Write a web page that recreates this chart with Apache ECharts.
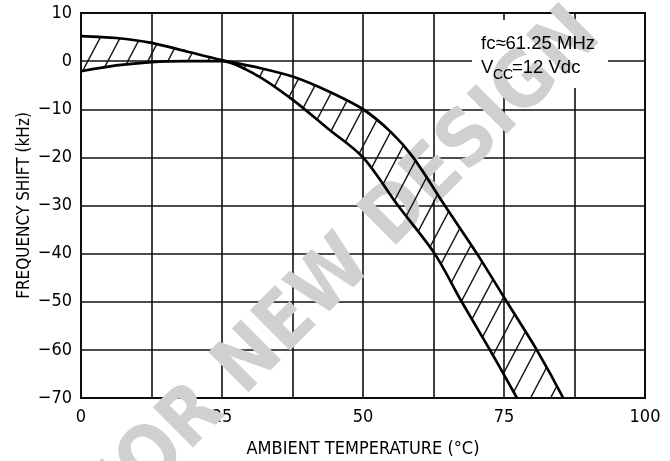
<!DOCTYPE html>
<html>
<head>
<meta charset="UTF-8">
<script src="https://cdn.jsdelivr.net/npm/echarts@6/dist/echarts.min.js"></script>
<style>
    html, body { margin: 0; padding: 0; background: #fff; }
    #chart { width: 670px; height: 461px; }
</style>
</head>
<body>
<div id="chart"></div>
<script>
    // values
    var xTicks = [0, 25, 50, 75, 100];
    var yTicks = [-70, -60, -50, -40, -30, -20, -10, 0, 10];

    var upperTemp  = [0, 6.25, 12.5, 18.75, 25, 31.25, 37.5, 43.75, 50, 55, 58.9, 64.5, 70.2, 75.5, 80.8, 85.5];
    var upperShift = [5.2, 4.8, 3.8, 2.0, 0.2, -1.3, -3.2, -6.2, -10, -14.8, -20, -30, -40, -50, -60, -70];

    var lowerTemp  = [0, 6.25, 12.5, 18.75, 25, 31.25, 37.5, 43.75, 50, 56.2, 62.7, 67.5, 72.5, 77.3];
    var lowerShift = [-2.1, -0.9, -0.2, 0, 0, -3, -8, -14, -20, -30, -40, -50, -60, -70];

    var narrow = "'Liberation Sans Narrow', 'DejaVu Sans Condensed', sans-serif";
    var plain = "'Liberation Sans', Arial, sans-serif";

    function pairs(xs, ys) {
        var out = [];
        for (var i = 0; i < xs.length; i++) out.push([xs[i], ys[i]]);
        return out;
    }

    // diagonal hatch tile
    function makeHatch() {
        var c = document.createElement('canvas');
        c.width = 20;
        c.height = 38;
        var ctx = c.getContext('2d');
        ctx.strokeStyle = '#111';
        ctx.lineWidth = 1.4;
        for (var k = -1; k <= 1; k++) {
            ctx.beginPath();
            ctx.moveTo(k * 20 - 10, 57);
            ctx.lineTo(k * 20 + 30, -19);
            ctx.stroke();
        }
        return c;
    }
    var hatch = makeHatch();

    var chart = echarts.init(document.getElementById('chart'));

    chart.setOption({
        backgroundColor: '#fff',
        animation: false,
        grid: {
            left: 81, right: 25, top: 13, bottom: 63,
            outerBoundsMode: 'none',
            show: true, borderColor: '#000', borderWidth: 2
        },
        xAxis: {
            type: 'value',
            min: xTicks[0], max: xTicks[xTicks.length - 1], interval: 12.5,
            name: 'AMBIENT TEMPERATURE (°C)',
            nameLocation: 'middle', nameGap: 42,
            nameTextStyle: { color: '#000', fontSize: 18, fontFamily: narrow },
            axisLine: { show: false },
            axisTick: { show: false },
            axisLabel: {
                color: '#000', fontSize: 18, fontFamily: narrow, margin: 10,
                formatter: function (v) { return xTicks.indexOf(v) >= 0 ? String(v) : ''; }
            },
            splitLine: { lineStyle: { color: '#111', width: 1.6 } }
        },
        yAxis: {
            type: 'value',
            min: yTicks[0], max: yTicks[yTicks.length - 1], interval: 10,
            name: 'FREQUENCY SHIFT (kHz)',
            nameLocation: 'middle', nameGap: 48, nameMoveOverlap: false,
            nameTextStyle: { color: '#000', fontSize: 17, fontFamily: narrow },
            axisLine: { show: false },
            axisTick: { show: false },
            axisLabel: {
                color: '#000', fontSize: 18, fontFamily: narrow, margin: 9,
                formatter: function (v) { return v < 0 ? '\u2212' + Math.abs(v) : String(v); }
            },
            splitLine: { lineStyle: { color: '#111', width: 1.6 } }
        },
        graphic: [
            // white patch behind the note
            { type: 'rect', shape: { x: 472, y: 20, width: 136, height: 68 }, style: { fill: '#fff' }, z: 1 },
            {
                type: 'text', x: 276, y: 336, rotation: Math.PI / 4, z: 1.5, silent: true,
                style: {
                    text: 'NOT FOR NEW DESIGN', fill: '#d0d0d0',
                    font: 'bold 78px ' + narrow, align: 'center', verticalAlign: 'middle'
                }
            },
            { type: 'text', x: 481, y: 44, z: 5, style: { text: 'fc\u224861.25 MHz', fill: '#000', font: '18.5px ' + plain, verticalAlign: 'middle' } },
            { type: 'text', x: 481, y: 68, z: 5, style: { text: 'V', fill: '#000', font: '18.5px ' + plain, verticalAlign: 'middle' } },
            { type: 'text', x: 493, y: 75, z: 5, style: { text: 'CC', fill: '#000', font: '14px ' + plain, verticalAlign: 'middle' } },
            { type: 'text', x: 512, y: 68, z: 5, style: { text: '=12 Vdc', fill: '#000', font: '18.5px ' + plain, verticalAlign: 'middle' } }
        ],
        series: [
            {
                type: 'custom',
                silent: true,
                z: 2,
                data: [[0, 0]],
                renderItem: function (params, api) {
                    var pts = [];
                    for (var i = 0; i < upperTemp.length; i++) pts.push(api.coord([upperTemp[i], upperShift[i]]));
                    for (var j = lowerTemp.length - 1; j >= 0; j--) pts.push(api.coord([lowerTemp[j], lowerShift[j]]));
                    return {
                        type: 'polygon',
                        shape: { points: pts },
                        style: { fill: { type: 'pattern', image: hatch, repeat: 'repeat' }, stroke: null }
                    };
                }
            },
            {
                type: 'line', name: 'upper', z: 3,
                data: pairs(upperTemp, upperShift),
                symbol: 'none', smooth: 0.3,
                lineStyle: { color: '#000', width: 2.7 }
            },
            {
                type: 'line', name: 'lower', z: 3,
                data: pairs(lowerTemp, lowerShift),
                symbol: 'none', smooth: 0.3,
                lineStyle: { color: '#000', width: 2.7 }
            }
        ]
    });
</script>
</body>
</html>
